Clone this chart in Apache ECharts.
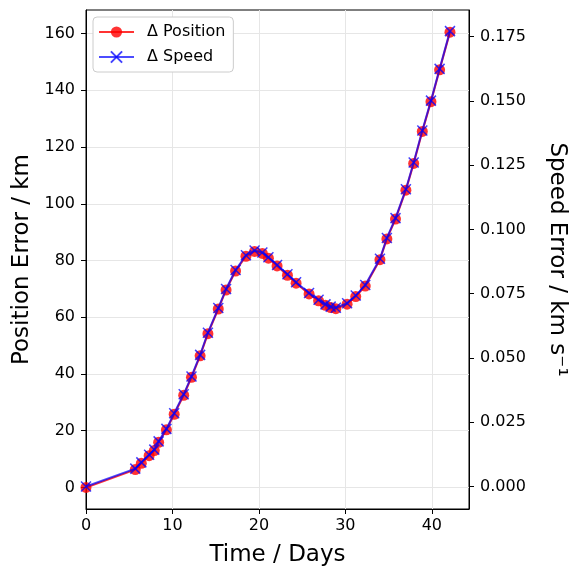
<!DOCTYPE html>
<html><head><meta charset="utf-8">
<script src="https://cdn.jsdelivr.net/npm/echarts@6/dist/echarts.min.js"></script>
<style>html,body{margin:0;padding:0;background:#fff}#c{width:576px;height:567px}</style>
</head><body><div id="c"></div>
<script>
const days = [0, 5.7, 6.4, 7.3, 7.9, 8.4, 9.3, 10.2, 11.3, 12.2, 13.2, 14.1, 15.3, 16.2, 17.3, 18.5, 19.5, 20.4, 21.1, 22.1, 23.3, 24.3, 25.8, 26.9, 27.7, 28.3, 28.9, 30.2, 31.2, 32.3, 34.0, 34.8, 35.8, 37.0, 37.9, 38.9, 39.9, 40.9, 42.1];
const positionErr = [0, 6.3, 8.5, 11.2, 13.0, 15.9, 20.3, 25.8, 32.5, 38.8, 46.4, 54.2, 62.9, 69.6, 76.3, 81.5, 83.2, 82.5, 80.8, 78.1, 74.8, 72.0, 68.2, 65.8, 64.2, 63.4, 63.0, 64.6, 67.3, 71.0, 80.3, 87.6, 94.6, 104.8, 114.2, 125.5, 136.0, 147.2, 160.5];
const speedErr = [0, 0.00695, 0.00938, 0.01236, 0.01434, 0.01754, 0.0224, 0.02847, 0.03586, 0.04281, 0.05119, 0.0598, 0.0694, 0.07679, 0.08418, 0.08992, 0.0918, 0.09102, 0.08915, 0.08617, 0.08253, 0.07944, 0.07525, 0.0726, 0.07083, 0.06995, 0.06951, 0.07127, 0.07425, 0.07833, 0.0886, 0.09665, 0.10437, 0.11563, 0.126, 0.13846, 0.15005, 0.1624, 0.17708];
const xTicks = [0, 10, 20, 30, 40];
const posTicks = [0, 20, 40, 60, 80, 100, 120, 140, 160];
const speedTicks = [0, 0.025, 0.05, 0.075, 0.1, 0.125, 0.15, 0.175];

const FONT = 'DejaVu Sans';
const TICKF = 16, TITLEF = 23;
const chart = echarts.init(document.getElementById('c'), null, {renderer: 'canvas'});
const tickStyle = {show: true, inside: false, length: 5, lineStyle: {color: '#000', width: 1}};
const gridLine = {show: true, lineStyle: {color: '#e6e6e6', width: 1}};
chart.setOption({
  animation: false,
  backgroundColor: '#fff',
  textStyle: {fontFamily: FONT},
  grid: {left: 86, right: 107, top: 10, bottom: 58, outerBoundsMode: 'none', containLabel: false,
    show: true, borderColor: '#000', borderWidth: 1, backgroundColor: 'transparent'},
  legend: {
    left: 93, top: 17, orient: 'vertical', itemGap: 9, itemWidth: 35, itemHeight: 14,
    padding: [7, 8, 7, 5],
    backgroundColor: '#fff', borderColor: '#cccccc', borderWidth: 1, borderRadius: 4,
    textStyle: {fontFamily: FONT, fontSize: 16, color: '#000', padding: [0, 0, 0, 8]},
    data: ['\u0394 Position', '\u0394 Speed']
  },
  xAxis: {
    type: 'value', min: 0, max: 44.3,
    name: 'Time / Days', nameLocation: 'middle', nameGap: 35,
    nameTextStyle: {fontFamily: FONT, fontSize: TITLEF, color: '#000'},
    axisLine: {show: true, onZero: false, lineStyle: {color: '#000'}},
    axisTick: Object.assign({customValues: xTicks}, tickStyle),
    axisLabel: {customValues: xTicks, color: '#000', fontSize: TICKF, fontFamily: FONT, margin: 9},
    splitLine: gridLine
  },
  yAxis: [{
    type: 'value', min: -7.6, max: 168.3, position: 'left',
    name: 'Position Error / km', nameLocation: 'middle', nameGap: 48, nameRotate: 90,
    nameTextStyle: {fontFamily: FONT, fontSize: TITLEF, color: '#000'},
    axisLine: {show: true, onZero: false, lineStyle: {color: '#000'}},
    axisTick: Object.assign({customValues: posTicks}, tickStyle),
    axisLabel: {customValues: posTicks, color: '#000', fontSize: TICKF, fontFamily: FONT, margin: 11},
    splitLine: gridLine
  }, {
    type: 'value', min: -0.00875, max: 0.1853, position: 'right',
    name: 'Speed Error / km s\u207B\u00B9', nameLocation: 'middle', nameGap: 76, nameRotate: -90,
    nameTextStyle: {fontFamily: FONT, fontSize: TITLEF, color: '#000'},
    axisLine: {show: true, onZero: false, lineStyle: {color: '#000'}},
    axisTick: Object.assign({customValues: speedTicks}, tickStyle),
    axisLabel: {customValues: speedTicks, color: '#000', fontSize: TICKF, fontFamily: FONT, margin: 11,
      formatter: v => v.toFixed(3)},
    splitLine: {show: false}
  }],
  series: [{
    name: '\u0394 Position', type: 'line', yAxisIndex: 0,
    data: days.map((d, i) => [d, positionErr[i]]),
    symbol: 'circle', symbolSize: 11, showAllSymbol: true,
    lineStyle: {color: 'rgba(255,0,0,0.8)', width: 2},
    itemStyle: {color: 'rgba(255,0,0,0.8)'},
    z: 2
  }, {
    name: '\u0394 Speed', type: 'line', yAxisIndex: 1,
    data: days.map((d, i) => [d, speedErr[i]]),
    symbol: 'path://M0,0L10,10M0,10L10,0', symbolSize: 10, showAllSymbol: true,
    lineStyle: {color: 'rgba(0,0,255,0.7)', width: 2},
    itemStyle: {color: 'rgba(0,0,255,0.7)', borderColor: 'rgba(0,0,255,0.75)', borderWidth: 1.5},
    z: 3
  }]
});
</script></body></html>
